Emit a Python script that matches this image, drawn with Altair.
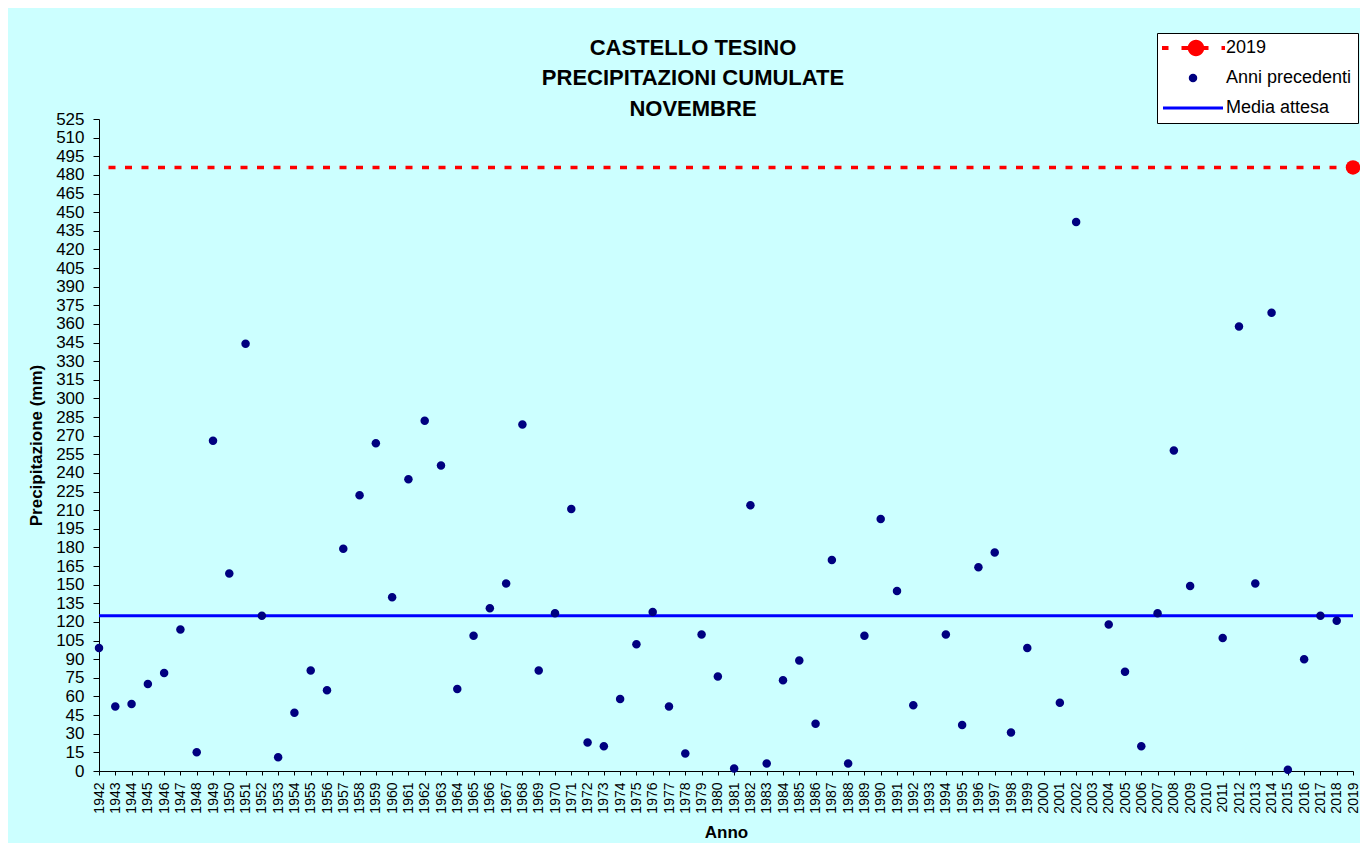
import altair as alt
import pandas as pd

# ---- data ----
anni = list(range(1942, 2019))
precipitazioni = [
    99, 52, 54, 70, 79, 114, 15, 266, 159, 344,      # 1942-1951
    125, 11, 47, 81, 65, 179, 222, 264, 140, 235,    # 1952-1961
    282, 246, 66, 109, 131, 151, 279, 81, 127, 211,  # 1962-1971
    23, 20, 58, 102, 128, 52, 14, 110, 76, 2,        # 1972-1981
    214, 6, 73, 89, 38, 170, 6, 109, 203, 145,       # 1982-1991
    53, None, 110, 37, 164, 176, 31, 99, None, 55,   # 1992-2001
    442, None, 118, 80, 20, 127, 258, 149, None, 107,  # 2002-2011
    358, 151, 369, 1, 90, 125, 121,                  # 2012-2018
]
anno_2019 = [2019]
valore_2019 = [486]
media_attesa = [125]

anni_asse = list(range(1942, 2020))
tick_y = list(range(0, 526, 15))

serie_nomi = ["2019", "Anni precedenti", "Media attesa"]
serie_colori = ["#FF0000", "#000080", "#0000FF"]

# legend symbols (custom paths, unit = sqrt(size)/2 px)
path_2019 = ("M-6.2,-0.4H-4.9V0.4H-6.2Z "
             "M-2.3,-0.4H3.1V0.4H-2.3Z "
             "M5.7,-0.4H6.4V0.4H5.7Z "
             "M-1.05,0A1.65,1.65 0 1,1 2.25,0A1.65,1.65 0 1,1 -1.05,0Z")
path_dot = "M-0.85,0A0.85,0.85 0 1,1 0.85,0A0.85,0.85 0 1,1 -0.85,0Z"
path_line = "M-6,-0.3H6V0.3H-6Z"

df = pd.DataFrame({"anno": anni, "valore": precipitazioni})
df = df.dropna()
df["serie"] = "Anni precedenti"
df19 = pd.DataFrame({"anno": anno_2019, "valore": valore_2019})
dfm = pd.DataFrame({"valore": media_attesa})

FONT = "Liberation Sans"
YT = "Precipitazione (mm)"

x_scale = alt.Scale(domain=[1942, 2019], nice=False, zero=False)
y_scale = alt.Scale(domain=[0, 525], nice=False, zero=True)

x_axis = alt.Axis(values=anni_asse, format="d", labelAngle=270, tickSize=4,
                  labelPadding=7, titlePadding=11, labelFontSize=14,
                  labelOverlap=False, labelFlush=False, titleFontSize=17)
y_axis = alt.Axis(values=tick_y, tickSize=6, labelPadding=9, labelFontSize=17,
                  labelOverlap=False, labelFlush=False, titlePadding=10,
                  titleFontSize=17)

legenda = alt.Legend(
    title=None, orient="none", legendX=1058, legendY=-86,
    padding=6, rowPadding=12, symbolSize=100, symbolStrokeWidth=0,
    symbolOffset=21, labelOffset=24, labelFontSize=18, labelFont=FONT,
    labelColor="black", fillColor="white", strokeColor="black",
    cornerRadius=0,
)

media = alt.Chart(dfm).mark_rule(color="#0000FF", strokeWidth=3).encode(
    y=alt.Y("valore:Q", scale=y_scale, axis=y_axis, title=YT)
)

rule19 = alt.Chart(df19).mark_rule(
    color="#FF0000", strokeWidth=3.5, strokeDash=[7, 9.5]
).encode(y=alt.Y("valore:Q", scale=y_scale, axis=y_axis, title=YT))

punti = alt.Chart(df).mark_point(filled=True, size=100, opacity=1, strokeWidth=0).encode(
    x=alt.X("anno:Q", scale=x_scale, axis=x_axis, title="Anno"),
    y=alt.Y("valore:Q", scale=y_scale, axis=y_axis, title=YT),
    color=alt.Color("serie:N", scale=alt.Scale(domain=serie_nomi, range=serie_colori),
                    legend=legenda),
    shape=alt.Shape("serie:N", scale=alt.Scale(domain=serie_nomi,
                                               range=[path_2019, path_dot, path_line]),
                    legend=legenda),
)

dot19 = alt.Chart(df19).mark_circle(color="#FF0000", size=210, opacity=1).encode(
    x=alt.X("anno:Q", scale=x_scale, axis=x_axis, title="Anno"),
    y=alt.Y("valore:Q", scale=y_scale, axis=y_axis, title=YT),
)

chart = alt.layer(media, rule19, punti, dot19).properties(
    width=1254,
    height=652,
    background="#CCFFFF",
    padding={"left": 91, "top": 111, "right": 7, "bottom": 72},
    autosize=alt.AutoSizeParams(type="none"),
    title=alt.TitleParams(
        ["CASTELLO TESINO", "PRECIPITAZIONI CUMULATE", "NOVEMBRE"],
        fontSize=22, fontWeight="bold", font=FONT, color="black",
        lineHeight=30.5, anchor="middle", frame="group", dx=-33, dy=91, offset=3,
    ),
).configure(font=FONT).configure_view(stroke=None, fill="#CCFFFF").configure_axis(
    grid=False, domainColor="black", tickColor="black", labelColor="black",
    titleColor="black", labelFont=FONT, titleFont=FONT, titleFontWeight="bold",
    domainWidth=1, tickWidth=1,
)

chart.save("out.html", embed_options={"renderer": "svg", "actions": False})
